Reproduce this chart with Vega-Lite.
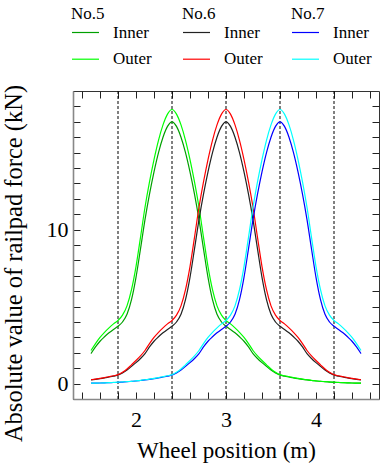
{
  "$schema": "https://vega.github.io/schema/vega-lite/v6.json",
  "width": 306,
  "height": 308,
  "autosize": {"type": "none"},
  "padding": {"left": 73, "top": 91, "right": 1, "bottom": 65},
  "background": "white",
  "config": {
    "font": "Times New Roman, Liberation Serif, serif",
    "style": {"guide-title": {"font": "Times New Roman, Liberation Serif, serif", "fontWeight": "normal"}, "guide-label": {"font": "Times New Roman, Liberation Serif, serif"}},
    "view": {"stroke": "#333333", "strokeWidth": 1},
    "axis": {"domain": false, "grid": false, "tickColor": "#222222", "tickWidth": 1, "tickSize": -7, "labelFont": "Times New Roman, Liberation Serif, serif", "labelFontSize": 22, "labelColor": "black", "titleFont": "Times New Roman, Liberation Serif, serif", "titleFontSize": 23, "titleFontWeight": "normal", "titleColor": "black"},
    "legend": {"orient": "none", "symbolType": "stroke", "symbolSize": 729, "symbolStrokeWidth": 1.2, "labelFont": "Times New Roman, Liberation Serif, serif", "labelFontSize": 17, "labelColor": "black", "titleFont": "Times New Roman, Liberation Serif, serif", "titleFontSize": 17, "titleFontWeight": "normal", "titleColor": "black", "labelOffset": 13, "rowPadding": 3.7, "titlePadding": -5}
  },
  "datasets": {
    "n5": [
      {"x":1.5,"Inner":1.95,"Outer":2.15},{"x":1.55,"Inner":2.38,"Outer":2.6},{"x":1.6,"Inner":2.75,"Outer":3.0},{"x":1.65,"Inner":3.04,"Outer":3.33},{"x":1.7,"Inner":3.3,"Outer":3.62},{"x":1.75,"Inner":3.52,"Outer":3.88},{"x":1.8,"Inner":3.72,"Outer":4.1},{"x":1.85,"Inner":4.0,"Outer":4.45},{"x":1.9,"Inner":4.5,"Outer":5.05},{"x":1.95,"Inner":5.45,"Outer":6.1},{"x":2.0,"Inner":6.9,"Outer":7.6},{"x":2.05,"Inner":8.75,"Outer":9.5},{"x":2.1,"Inner":10.65,"Outer":11.45},{"x":2.15,"Inner":12.3,"Outer":13.1},{"x":2.2,"Inner":13.75,"Outer":14.55},{"x":2.25,"Inner":15.0,"Outer":15.8},{"x":2.3,"Inner":16.0,"Outer":16.8},{"x":2.35,"Inner":16.7,"Outer":17.5},{"x":2.4,"Inner":17.0,"Outer":17.8},{"x":2.45,"Inner":16.7,"Outer":17.5},{"x":2.5,"Inner":16.0,"Outer":16.8},{"x":2.55,"Inner":15.0,"Outer":15.8},{"x":2.6,"Inner":13.75,"Outer":14.55},{"x":2.65,"Inner":12.3,"Outer":13.1},{"x":2.7,"Inner":10.65,"Outer":11.45},{"x":2.75,"Inner":8.75,"Outer":9.5},{"x":2.8,"Inner":6.9,"Outer":7.6},{"x":2.85,"Inner":5.45,"Outer":6.1},{"x":2.9,"Inner":4.5,"Outer":5.05},{"x":2.95,"Inner":4.0,"Outer":4.45},{"x":3.0,"Inner":3.72,"Outer":4.1},{"x":3.05,"Inner":3.52,"Outer":3.88},{"x":3.1,"Inner":3.3,"Outer":3.62},{"x":3.15,"Inner":3.04,"Outer":3.33},{"x":3.2,"Inner":2.75,"Outer":3.0},{"x":3.25,"Inner":2.38,"Outer":2.6},{"x":3.3,"Inner":1.95,"Outer":2.15},{"x":3.35,"Inner":1.63,"Outer":1.8},{"x":3.4,"Inner":1.36,"Outer":1.5},{"x":3.45,"Inner":1.12,"Outer":1.22},{"x":3.5,"Inner":0.88,"Outer":0.95},{"x":3.55,"Inner":0.69,"Outer":0.74},{"x":3.6,"Inner":0.55,"Outer":0.58},{"x":3.65,"Inner":0.49,"Outer":0.51},{"x":3.7,"Inner":0.43,"Outer":0.45},{"x":3.75,"Inner":0.37,"Outer":0.39},{"x":3.8,"Inner":0.32,"Outer":0.34},{"x":3.85,"Inner":0.28,"Outer":0.29},{"x":3.9,"Inner":0.24,"Outer":0.25},{"x":3.95,"Inner":0.2,"Outer":0.21},{"x":4.0,"Inner":0.17,"Outer":0.18},{"x":4.05,"Inner":0.145,"Outer":0.15},{"x":4.1,"Inner":0.12,"Outer":0.13},{"x":4.15,"Inner":0.1,"Outer":0.11},{"x":4.2,"Inner":0.08,"Outer":0.09},{"x":4.25,"Inner":0.07,"Outer":0.075},{"x":4.3,"Inner":0.06,"Outer":0.06},{"x":4.35,"Inner":0.05,"Outer":0.05},{"x":4.4,"Inner":0.04,"Outer":0.04},{"x":4.45,"Inner":0.035,"Outer":0.035},{"x":4.5,"Inner":0.03,"Outer":0.03}
    ],
    "n6": [
      {"x":1.5,"Inner":0.24,"Outer":0.25},{"x":1.55,"Inner":0.28,"Outer":0.29},{"x":1.6,"Inner":0.32,"Outer":0.34},{"x":1.65,"Inner":0.37,"Outer":0.39},{"x":1.7,"Inner":0.43,"Outer":0.45},{"x":1.75,"Inner":0.49,"Outer":0.51},{"x":1.8,"Inner":0.55,"Outer":0.58},{"x":1.85,"Inner":0.69,"Outer":0.74},{"x":1.9,"Inner":0.88,"Outer":0.95},{"x":1.95,"Inner":1.12,"Outer":1.22},{"x":2.0,"Inner":1.36,"Outer":1.5},{"x":2.05,"Inner":1.63,"Outer":1.8},{"x":2.1,"Inner":1.95,"Outer":2.15},{"x":2.15,"Inner":2.38,"Outer":2.6},{"x":2.2,"Inner":2.75,"Outer":3.0},{"x":2.25,"Inner":3.04,"Outer":3.33},{"x":2.3,"Inner":3.3,"Outer":3.62},{"x":2.35,"Inner":3.52,"Outer":3.88},{"x":2.4,"Inner":3.72,"Outer":4.1},{"x":2.45,"Inner":4.0,"Outer":4.45},{"x":2.5,"Inner":4.5,"Outer":5.05},{"x":2.55,"Inner":5.45,"Outer":6.1},{"x":2.6,"Inner":6.9,"Outer":7.6},{"x":2.65,"Inner":8.75,"Outer":9.5},{"x":2.7,"Inner":10.65,"Outer":11.45},{"x":2.75,"Inner":12.3,"Outer":13.1},{"x":2.8,"Inner":13.75,"Outer":14.55},{"x":2.85,"Inner":15.0,"Outer":15.8},{"x":2.9,"Inner":16.0,"Outer":16.8},{"x":2.95,"Inner":16.7,"Outer":17.5},{"x":3.0,"Inner":17.0,"Outer":17.8},{"x":3.05,"Inner":16.7,"Outer":17.5},{"x":3.1,"Inner":16.0,"Outer":16.8},{"x":3.15,"Inner":15.0,"Outer":15.8},{"x":3.2,"Inner":13.75,"Outer":14.55},{"x":3.25,"Inner":12.3,"Outer":13.1},{"x":3.3,"Inner":10.65,"Outer":11.45},{"x":3.35,"Inner":8.75,"Outer":9.5},{"x":3.4,"Inner":6.9,"Outer":7.6},{"x":3.45,"Inner":5.45,"Outer":6.1},{"x":3.5,"Inner":4.5,"Outer":5.05},{"x":3.55,"Inner":4.0,"Outer":4.45},{"x":3.6,"Inner":3.72,"Outer":4.1},{"x":3.65,"Inner":3.52,"Outer":3.88},{"x":3.7,"Inner":3.3,"Outer":3.62},{"x":3.75,"Inner":3.04,"Outer":3.33},{"x":3.8,"Inner":2.75,"Outer":3.0},{"x":3.85,"Inner":2.38,"Outer":2.6},{"x":3.9,"Inner":1.95,"Outer":2.15},{"x":3.95,"Inner":1.63,"Outer":1.8},{"x":4.0,"Inner":1.36,"Outer":1.5},{"x":4.05,"Inner":1.12,"Outer":1.22},{"x":4.1,"Inner":0.88,"Outer":0.95},{"x":4.15,"Inner":0.69,"Outer":0.74},{"x":4.2,"Inner":0.55,"Outer":0.58},{"x":4.25,"Inner":0.49,"Outer":0.51},{"x":4.3,"Inner":0.43,"Outer":0.45},{"x":4.35,"Inner":0.37,"Outer":0.39},{"x":4.4,"Inner":0.32,"Outer":0.34},{"x":4.45,"Inner":0.28,"Outer":0.29},{"x":4.5,"Inner":0.24,"Outer":0.25}
    ],
    "n7": [
      {"x":1.5,"Inner":0.03,"Outer":0.03},{"x":1.55,"Inner":0.035,"Outer":0.035},{"x":1.6,"Inner":0.04,"Outer":0.04},{"x":1.65,"Inner":0.05,"Outer":0.05},{"x":1.7,"Inner":0.06,"Outer":0.06},{"x":1.75,"Inner":0.07,"Outer":0.075},{"x":1.8,"Inner":0.08,"Outer":0.09},{"x":1.85,"Inner":0.1,"Outer":0.11},{"x":1.9,"Inner":0.12,"Outer":0.13},{"x":1.95,"Inner":0.145,"Outer":0.15},{"x":2.0,"Inner":0.17,"Outer":0.18},{"x":2.05,"Inner":0.2,"Outer":0.21},{"x":2.1,"Inner":0.24,"Outer":0.25},{"x":2.15,"Inner":0.28,"Outer":0.29},{"x":2.2,"Inner":0.32,"Outer":0.34},{"x":2.25,"Inner":0.37,"Outer":0.39},{"x":2.3,"Inner":0.43,"Outer":0.45},{"x":2.35,"Inner":0.49,"Outer":0.51},{"x":2.4,"Inner":0.55,"Outer":0.58},{"x":2.45,"Inner":0.69,"Outer":0.74},{"x":2.5,"Inner":0.88,"Outer":0.95},{"x":2.55,"Inner":1.12,"Outer":1.22},{"x":2.6,"Inner":1.36,"Outer":1.5},{"x":2.65,"Inner":1.63,"Outer":1.8},{"x":2.7,"Inner":1.95,"Outer":2.15},{"x":2.75,"Inner":2.38,"Outer":2.6},{"x":2.8,"Inner":2.75,"Outer":3.0},{"x":2.85,"Inner":3.04,"Outer":3.33},{"x":2.9,"Inner":3.3,"Outer":3.62},{"x":2.95,"Inner":3.52,"Outer":3.88},{"x":3.0,"Inner":3.72,"Outer":4.1},{"x":3.05,"Inner":4.0,"Outer":4.45},{"x":3.1,"Inner":4.5,"Outer":5.05},{"x":3.15,"Inner":5.45,"Outer":6.1},{"x":3.2,"Inner":6.9,"Outer":7.6},{"x":3.25,"Inner":8.75,"Outer":9.5},{"x":3.3,"Inner":10.65,"Outer":11.45},{"x":3.35,"Inner":12.3,"Outer":13.1},{"x":3.4,"Inner":13.75,"Outer":14.55},{"x":3.45,"Inner":15.0,"Outer":15.8},{"x":3.5,"Inner":16.0,"Outer":16.8},{"x":3.55,"Inner":16.7,"Outer":17.5},{"x":3.6,"Inner":17.0,"Outer":17.8},{"x":3.65,"Inner":16.7,"Outer":17.5},{"x":3.7,"Inner":16.0,"Outer":16.8},{"x":3.75,"Inner":15.0,"Outer":15.8},{"x":3.8,"Inner":13.75,"Outer":14.55},{"x":3.85,"Inner":12.3,"Outer":13.1},{"x":3.9,"Inner":10.65,"Outer":11.45},{"x":3.95,"Inner":8.75,"Outer":9.5},{"x":4.0,"Inner":6.9,"Outer":7.6},{"x":4.05,"Inner":5.45,"Outer":6.1},{"x":4.1,"Inner":4.5,"Outer":5.05},{"x":4.15,"Inner":4.0,"Outer":4.45},{"x":4.2,"Inner":3.72,"Outer":4.1},{"x":4.25,"Inner":3.52,"Outer":3.88},{"x":4.3,"Inner":3.3,"Outer":3.62},{"x":4.35,"Inner":3.04,"Outer":3.33},{"x":4.4,"Inner":2.75,"Outer":3.0},{"x":4.45,"Inner":2.38,"Outer":2.6},{"x":4.5,"Inner":1.95,"Outer":2.15}
    ]
  },
  "layer": [
    {
      "data": {"values": [{"v": 1.8}, {"v": 2.4}, {"v": 3.0}, {"v": 3.6}, {"v": 4.2}]},
      "mark": {"type": "rule", "color": "black", "strokeWidth": 1, "strokeDash": [3, 2]},
      "encoding": {
        "x": {"field": "v", "type": "quantitative", "scale": {"domain": [1.3, 4.7], "nice": false, "zero": false}, "axis": null}
      }
    },
    {
      "data": {"name": "n5"},
      "transform": [{"fold": ["Inner", "Outer"], "as": ["k", "val"]}],
      "mark": {"type": "line", "strokeWidth": 1.2, "interpolate": "monotone", "clip": true},
      "encoding": {
        "x": {"field": "x", "type": "quantitative", "scale": {"domain": [1.3, 4.7], "nice": false, "zero": false},
          "axis": {"orient": "bottom", "values": [1.4,1.6,1.8,2,2.2,2.4,2.6,2.8,3,3.2,3.4,3.6,3.8,4,4.2,4.4,4.6],
            "labelExpr": "datum.value % 1 === 0 ? format(datum.value, 'd') : ''",
            "encode": {"ticks": {"update": {"y2": {"signal": "datum.value % 1 === 0 ? -7 : -4"}}}},
            "labelPadding": 17, "domain": true, "domainColor": "#888888", "domainWidth": 1.6,
            "title": "Wheel position (m)", "titleX": 153, "titleY": 58, "titleBaseline": "alphabetic"}},
        "y": {"field": "val", "type": "quantitative", "scale": {"domain": [-1, 19], "nice": false, "zero": false},
          "axis": {"orient": "left", "values": [0,1,2,3,4,5,6,7,8,9,10,11,12,13,14,15,16,17,18],
            "labelExpr": "datum.value % 10 === 0 ? format(datum.value, 'd') : ''",
            "encode": {"ticks": {"update": {"x2": {"signal": "datum.value % 10 === 0 ? 7 : 4"}}}},
            "labelPadding": 12, "domain": true, "domainColor": "#888888", "domainWidth": 1.6,
            "title": "Absolute value of railpad force (kN)", "titleFontSize": 24.5, "titleX": -52, "titleY": 172, "titleBaseline": "alphabetic"}},
        "color": {"field": "k", "type": "nominal", "scale": {"domain": ["Inner", "Outer"], "range": ["#00a000", "#00ff00"]},
          "legend": {"title": "No.5", "legendX": -2, "legendY": -85}}
      }
    },
    {
      "data": {"name": "n6"},
      "transform": [{"fold": ["Inner", "Outer"], "as": ["k", "val"]}],
      "mark": {"type": "line", "strokeWidth": 1.2, "interpolate": "monotone", "clip": true},
      "encoding": {
        "x": {"field": "x", "type": "quantitative", "scale": {"domain": [1.3, 4.7], "nice": false, "zero": false},
          "axis": {"orient": "top", "values": [1.4,1.6,1.8,2,2.2,2.4,2.6,2.8,3,3.2,3.4,3.6,3.8,4,4.2,4.4,4.6],
            "labels": false, "title": null,
            "encode": {"ticks": {"update": {"y2": {"signal": "datum.value % 1 === 0 ? 7 : 4"}}}}}},
        "y": {"field": "val", "type": "quantitative", "scale": {"domain": [-1, 19], "nice": false, "zero": false},
          "axis": {"orient": "right", "values": [0,1,2,3,4,5,6,7,8,9,10,11,12,13,14,15,16,17,18],
            "labels": false, "title": null,
            "encode": {"ticks": {"update": {"x2": {"signal": "datum.value % 10 === 0 ? -7 : -4"}}}}}},
        "color": {"field": "k", "type": "nominal", "scale": {"domain": ["Inner", "Outer"], "range": ["#222222", "#ff0000"]},
          "legend": {"title": "No.6", "legendX": 109, "legendY": -85}}
      }
    },
    {
      "data": {"name": "n7"},
      "transform": [{"fold": ["Inner", "Outer"], "as": ["k", "val"]}],
      "mark": {"type": "line", "strokeWidth": 1.2, "interpolate": "monotone", "clip": true},
      "encoding": {
        "x": {"field": "x", "type": "quantitative", "scale": {"domain": [1.3, 4.7], "nice": false, "zero": false}, "axis": null},
        "y": {"field": "val", "type": "quantitative", "scale": {"domain": [-1, 19], "nice": false, "zero": false}, "axis": null},
        "color": {"field": "k", "type": "nominal", "scale": {"domain": ["Inner", "Outer"], "range": ["#0000ff", "#00ffff"]},
          "legend": {"title": "No.7", "legendX": 218, "legendY": -85}}
      }
    }
  ],
  "resolve": {
    "scale": {"color": "independent"},
    "legend": {"color": "independent"},
    "axis": {"x": "independent", "y": "independent"}
  }
}
